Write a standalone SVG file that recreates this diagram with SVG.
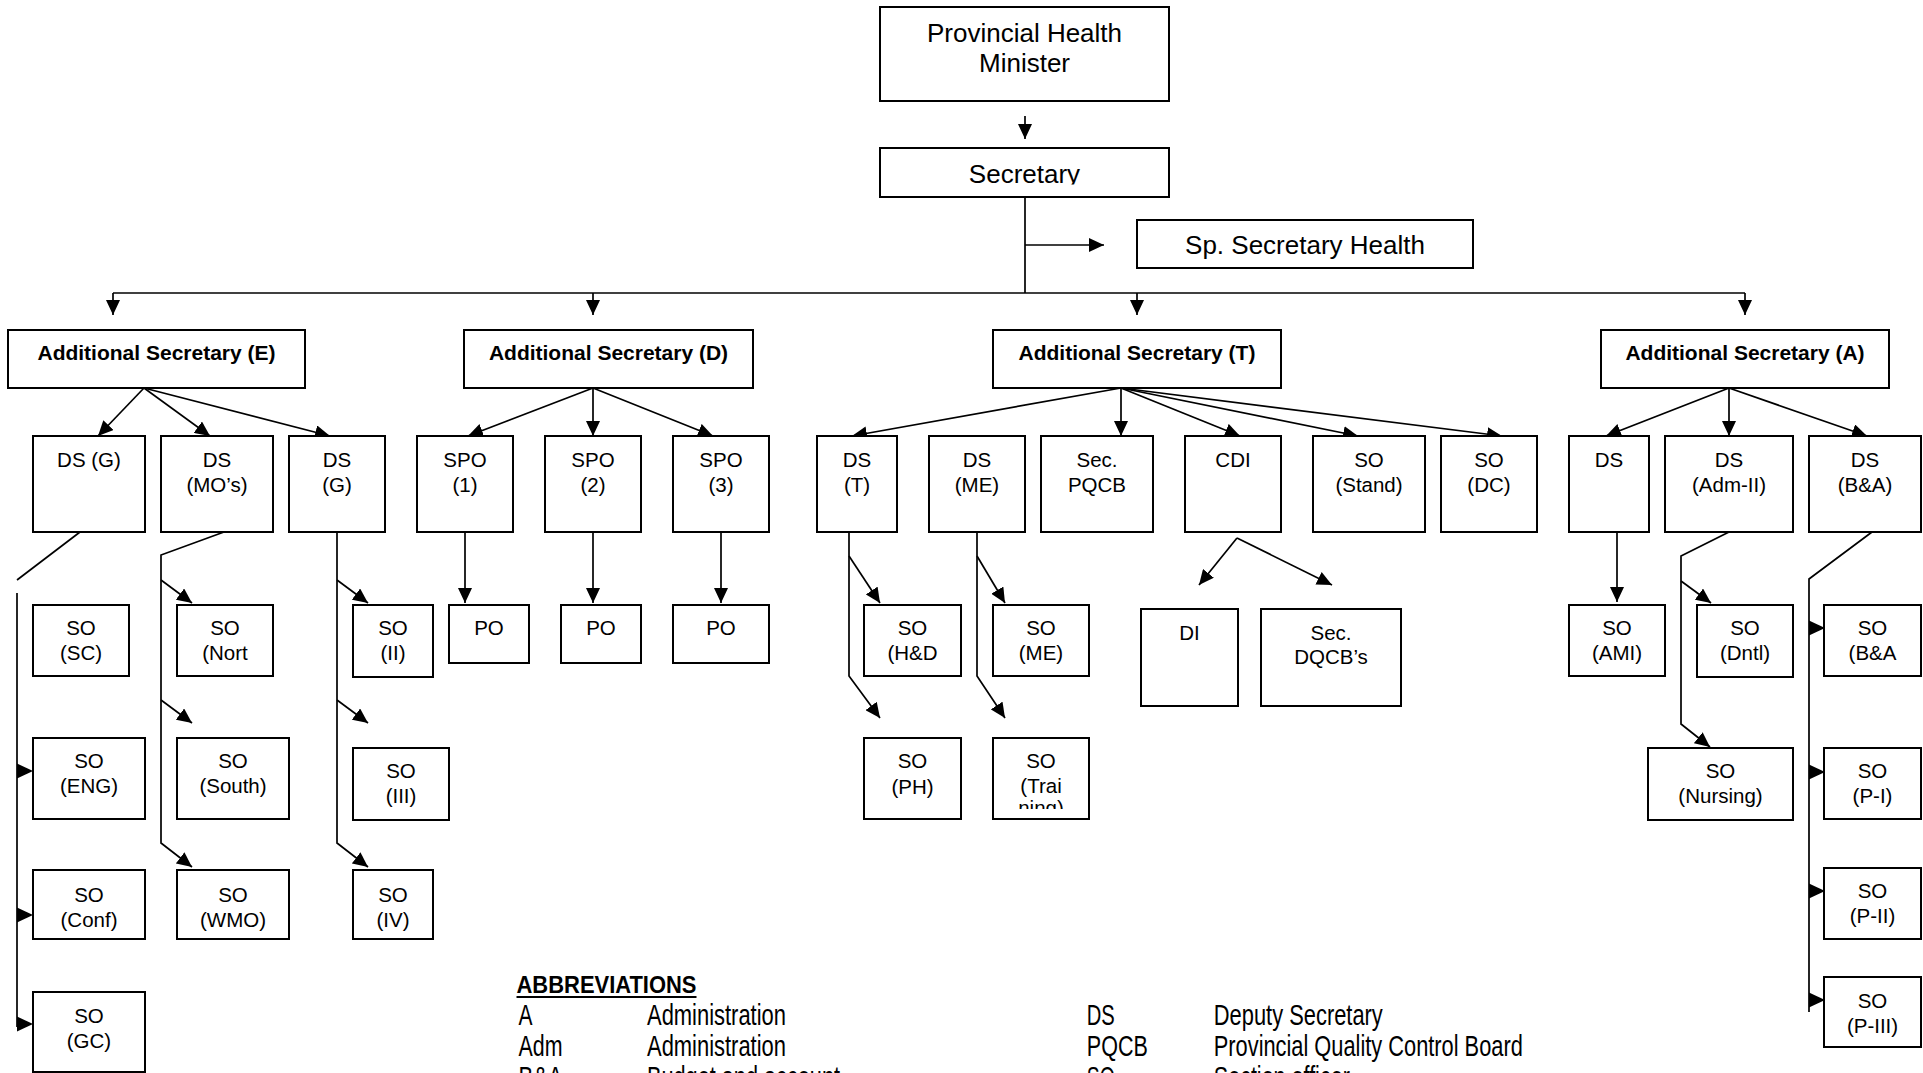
<svg xmlns="http://www.w3.org/2000/svg" xmlns:xlink="http://www.w3.org/1999/xlink" width="1923" height="1073" viewBox="0 0 1923 1073">
  <style>
    .box { fill: #ffffff; stroke: #000000; stroke-width: 2; }
    .t { font-family: "Liberation Sans", Arial, sans-serif; font-size: 20.5px; fill: #000000; text-anchor: middle; }
    .big { font-family: "Liberation Sans", Arial, sans-serif; font-size: 26px; fill: #000000; text-anchor: middle; }
    .bold { font-family: "Liberation Sans", Arial, sans-serif; font-size: 21px; font-weight: bold; fill: #000000; text-anchor: middle; }
    .ln { fill: none; stroke: #000000; stroke-width: 1.7; }
    .arw { marker-end: url(#arr); }
    .abbr { font-family: "Liberation Sans Narrow", "Liberation Sans", Arial, sans-serif; font-size: 29px; fill: #000000; }
    .abbrh { font-family: "Liberation Sans Narrow", "Liberation Sans", Arial, sans-serif; font-size: 23px; font-weight: bold; fill: #000000; }
  </style>
  <defs>
    <marker id="arr" viewBox="0 0 15 14" markerWidth="15" markerHeight="14" refX="15" refY="7" markerUnits="userSpaceOnUse" orient="auto">
      <path d="M0,0 L15,7 L0,14 Z" fill="#000000"/>
    </marker>
    <path id="tri" d="M0,-7.5 L16,0 L0,7.5 Z" fill="#000000"/>
    <clipPath id="clipSec"><rect x="880" y="148" width="289" height="36.5"/></clipPath>
    <clipPath id="clipTrai"><rect x="993" y="738" width="96" height="71"/></clipPath>
  </defs>

  <rect width="1923" height="1073" fill="#ffffff"/>

  <!-- connectors -->
  <g id="connectors">
    <path class="ln arw" d="M1025,116 V139"/>
    <path class="ln" d="M1025,197 V293"/>
    <path class="ln arw" d="M1025,245 H1104" stroke-width="2.6"/>
    <path class="ln" d="M113,293 H1745"/>
    <path class="ln arw" d="M113,293 V315"/>
    <path class="ln arw" d="M593,293 V315"/>
    <path class="ln arw" d="M1137,293 V315"/>
    <path class="ln arw" d="M1745,293 V315"/>

    <!-- Additional Secretary (E) -->
    <path class="ln arw" d="M144,388 L98,436"/>
    <path class="ln arw" d="M144,388 L210,436"/>
    <path class="ln arw" d="M144,388 L330,436"/>
    <!-- Additional Secretary (D) -->
    <path class="ln arw" d="M593,388 L468,436"/>
    <path class="ln arw" d="M593,388 V436"/>
    <path class="ln arw" d="M593,388 L713,436"/>
    <!-- Additional Secretary (T) -->
    <path class="ln arw" d="M1121,388 L852,436"/>
    <path class="ln arw" d="M1121,388 V436"/>
    <path class="ln arw" d="M1121,388 L1240,436"/>
    <path class="ln arw" d="M1121,388 L1358,436"/>
    <path class="ln arw" d="M1121,388 L1502,436"/>
    <!-- Additional Secretary (A) -->
    <path class="ln arw" d="M1729,388 L1606,436"/>
    <path class="ln arw" d="M1729,388 V436"/>
    <path class="ln arw" d="M1729,388 L1867,436"/>

    <!-- DS (G) column -->
    <path class="ln" d="M80,532 L17,580"/>
    <path class="ln" d="M17,593 V1027" stroke-width="2"/>
    <use xlink:href="#tri" x="17" y="771"/>
    <use xlink:href="#tri" x="17" y="915"/>
    <use xlink:href="#tri" x="17" y="1024"/>

    <!-- DS (MO's) column -->
    <path class="ln arw" d="M224,532 L161,555 V843 L192,867"/>
    <path class="ln arw" d="M161,580 L192,603"/>
    <path class="ln arw" d="M161,700 L192,723"/>

    <!-- DS (G) second column -->
    <path class="ln arw" d="M337,532 V843 L368,867"/>
    <path class="ln arw" d="M337,580 L368,603"/>
    <path class="ln arw" d="M337,700 L368,723"/>

    <!-- SPO to PO -->
    <path class="ln arw" d="M465,532 V603"/>
    <path class="ln arw" d="M593,532 V603"/>
    <path class="ln arw" d="M721,532 V603"/>

    <!-- DS (T) and DS (ME) columns -->
    <path class="ln arw" d="M849,532 V676 L880,718"/>
    <path class="ln arw" d="M849,556 L880,603"/>
    <path class="ln arw" d="M977,532 V676 L1005,718"/>
    <path class="ln arw" d="M977,556 L1005,603"/>

    <!-- CDI -->
    <path class="ln arw" d="M1237,538 L1199,585"/>
    <path class="ln arw" d="M1237,538 L1332,585"/>

    <!-- DS (A side) -->
    <path class="ln arw" d="M1617,532 V602"/>
    <path class="ln arw" d="M1729,532 L1681,556 V724 L1710,747"/>
    <path class="ln arw" d="M1681,581 L1711,603"/>

    <!-- DS (B&A) column -->
    <path class="ln" d="M1872,532 L1809,579 V1012" stroke-width="2"/>
    <use xlink:href="#tri" x="1809" y="628"/>
    <use xlink:href="#tri" x="1809" y="772"/>
    <use xlink:href="#tri" x="1809" y="891"/>
    <use xlink:href="#tri" x="1809" y="1000"/>
  </g>

  <!-- top of hierarchy -->
  <g id="phm"><rect class="box" x="880" y="7" width="289" height="94"/>
    <text class="big" x="1024.5" y="42">Provincial Health</text>
    <text class="big" x="1024.5" y="72">Minister</text></g>
  <g id="secretary"><rect class="box" x="880" y="148" width="289" height="49"/>
    <text class="big" x="1024.5" y="183" clip-path="url(#clipSec)">Secretary</text></g>
  <g id="sp-secretary"><rect class="box" x="1137" y="220" width="336" height="48"/>
    <text class="big" x="1305" y="254">Sp. Secretary Health</text></g>

  <!-- Additional Secretaries -->
  <g id="as-e"><rect class="box" x="8" y="330" width="297" height="58"/>
    <text class="bold" x="156.5" y="360">Additional Secretary (E)</text></g>
  <g id="as-d"><rect class="box" x="464" y="330" width="289" height="58"/>
    <text class="bold" x="608.5" y="360">Additional Secretary (D)</text></g>
  <g id="as-t"><rect class="box" x="993" y="330" width="288" height="58"/>
    <text class="bold" x="1137" y="360">Additional Secretary (T)</text></g>
  <g id="as-a"><rect class="box" x="1601" y="330" width="288" height="58"/>
    <text class="bold" x="1745" y="360">Additional Secretary (A)</text></g>

  <!-- second level -->
  <g id="ds-g1"><rect class="box" x="33" y="436" width="112" height="96"/>
    <text class="t" x="89" y="467">DS (G)</text></g>
  <g id="ds-mos"><rect class="box" x="161" y="436" width="112" height="96"/>
    <text class="t" x="217" y="467">DS</text><text class="t" x="217" y="492">(MO’s)</text></g>
  <g id="ds-g2"><rect class="box" x="289" y="436" width="96" height="96"/>
    <text class="t" x="337" y="467">DS</text><text class="t" x="337" y="492">(G)</text></g>
  <g id="spo1"><rect class="box" x="417" y="436" width="96" height="96"/>
    <text class="t" x="465" y="467">SPO</text><text class="t" x="465" y="492">(1)</text></g>
  <g id="spo2"><rect class="box" x="545" y="436" width="96" height="96"/>
    <text class="t" x="593" y="467">SPO</text><text class="t" x="593" y="492">(2)</text></g>
  <g id="spo3"><rect class="box" x="673" y="436" width="96" height="96"/>
    <text class="t" x="721" y="467">SPO</text><text class="t" x="721" y="492">(3)</text></g>
  <g id="ds-t"><rect class="box" x="817" y="436" width="80" height="96"/>
    <text class="t" x="857" y="467">DS</text><text class="t" x="857" y="492">(T)</text></g>
  <g id="ds-me"><rect class="box" x="929" y="436" width="96" height="96"/>
    <text class="t" x="977" y="467">DS</text><text class="t" x="977" y="492">(ME)</text></g>
  <g id="sec-pqcb"><rect class="box" x="1041" y="436" width="112" height="96"/>
    <text class="t" x="1097" y="467">Sec.</text><text class="t" x="1097" y="492">PQCB</text></g>
  <g id="cdi"><rect class="box" x="1185" y="436" width="96" height="96"/>
    <text class="t" x="1233" y="467">CDI</text></g>
  <g id="so-stand"><rect class="box" x="1313" y="436" width="112" height="96"/>
    <text class="t" x="1369" y="467">SO</text><text class="t" x="1369" y="492">(Stand)</text></g>
  <g id="so-dc"><rect class="box" x="1441" y="436" width="96" height="96"/>
    <text class="t" x="1489" y="467">SO</text><text class="t" x="1489" y="492">(DC)</text></g>
  <g id="ds-a"><rect class="box" x="1569" y="436" width="80" height="96"/>
    <text class="t" x="1609" y="467">DS</text></g>
  <g id="ds-adm"><rect class="box" x="1665" y="436" width="128" height="96"/>
    <text class="t" x="1729" y="467">DS</text><text class="t" x="1729" y="492">(Adm-II)</text></g>
  <g id="ds-ba"><rect class="box" x="1809" y="436" width="112" height="96"/>
    <text class="t" x="1865" y="467">DS</text><text class="t" x="1865" y="492">(B&amp;A)</text></g>

  <!-- third level, first row -->
  <g id="so-sc"><rect class="box" x="33" y="605" width="96" height="71"/>
    <text class="t" x="81" y="635">SO</text><text class="t" x="81" y="660">(SC)</text></g>
  <g id="so-nort"><rect class="box" x="177" y="605" width="96" height="71"/>
    <text class="t" x="225" y="635">SO</text><text class="t" x="225" y="660">(Nort</text></g>
  <g id="so-ii"><rect class="box" x="353" y="605" width="80" height="72"/>
    <text class="t" x="393" y="635">SO</text><text class="t" x="393" y="660">(II)</text></g>
  <g id="po1"><rect class="box" x="449" y="605" width="80" height="58"/>
    <text class="t" x="489" y="635">PO</text></g>
  <g id="po2"><rect class="box" x="561" y="605" width="80" height="58"/>
    <text class="t" x="601" y="635">PO</text></g>
  <g id="po3"><rect class="box" x="673" y="605" width="96" height="58"/>
    <text class="t" x="721" y="635">PO</text></g>
  <g id="so-hd"><rect class="box" x="864" y="605" width="97" height="71"/>
    <text class="t" x="912.5" y="635">SO</text><text class="t" x="912.5" y="660">(H&amp;D</text></g>
  <g id="so-me"><rect class="box" x="993" y="605" width="96" height="71"/>
    <text class="t" x="1041" y="635">SO</text><text class="t" x="1041" y="660">(ME)</text></g>
  <g id="di"><rect class="box" x="1141" y="609" width="97" height="97"/>
    <text class="t" x="1189.5" y="640">DI</text></g>
  <g id="sec-dqcb"><rect class="box" x="1261" y="609" width="140" height="97"/>
    <text class="t" x="1331" y="640">Sec.</text><text class="t" x="1331" y="664">DQCB’s</text></g>
  <g id="so-ami"><rect class="box" x="1569" y="605" width="96" height="71"/>
    <text class="t" x="1617" y="635">SO</text><text class="t" x="1617" y="660">(AMI)</text></g>
  <g id="so-dntl"><rect class="box" x="1697" y="605" width="96" height="72"/>
    <text class="t" x="1745" y="635">SO</text><text class="t" x="1745" y="660">(Dntl)</text></g>
  <g id="so-ba"><rect class="box" x="1824" y="605" width="97" height="71"/>
    <text class="t" x="1872.5" y="635">SO</text><text class="t" x="1872.5" y="660">(B&amp;A</text></g>

  <!-- third level, second row -->
  <g id="so-eng"><rect class="box" x="33" y="738" width="112" height="81"/>
    <text class="t" x="89" y="768">SO</text><text class="t" x="89" y="793">(ENG)</text></g>
  <g id="so-south"><rect class="box" x="177" y="738" width="112" height="81"/>
    <text class="t" x="233" y="768">SO</text><text class="t" x="233" y="793">(South)</text></g>
  <g id="so-iii"><rect class="box" x="353" y="748" width="96" height="72"/>
    <text class="t" x="401" y="778">SO</text><text class="t" x="401" y="803">(III)</text></g>
  <g id="so-ph"><rect class="box" x="864" y="738" width="97" height="81"/>
    <text class="t" x="912.5" y="768">SO</text><text class="t" x="912.5" y="794">(PH)</text></g>
  <g id="so-training"><rect class="box" x="993" y="738" width="96" height="81"/>
    <text class="t" x="1041" y="768">SO</text><text class="t" x="1041" y="793">(Trai</text>
    <text class="t" x="1041" y="815" clip-path="url(#clipTrai)">ning)</text></g>
  <g id="so-nursing"><rect class="box" x="1648" y="748" width="145" height="72"/>
    <text class="t" x="1720.5" y="778">SO</text><text class="t" x="1720.5" y="803">(Nursing)</text></g>
  <g id="so-p1"><rect class="box" x="1824" y="748" width="97" height="71"/>
    <text class="t" x="1872.5" y="778">SO</text><text class="t" x="1872.5" y="803">(P-I)</text></g>

  <!-- third level, lower rows -->
  <g id="so-conf"><rect class="box" x="33" y="870" width="112" height="69"/>
    <text class="t" x="89" y="902">SO</text><text class="t" x="89" y="927">(Conf)</text></g>
  <g id="so-wmo"><rect class="box" x="177" y="870" width="112" height="69"/>
    <text class="t" x="233" y="902">SO</text><text class="t" x="233" y="927">(WMO)</text></g>
  <g id="so-iv"><rect class="box" x="353" y="870" width="80" height="69"/>
    <text class="t" x="393" y="902">SO</text><text class="t" x="393" y="927">(IV)</text></g>
  <g id="so-p2"><rect class="box" x="1824" y="868" width="97" height="71"/>
    <text class="t" x="1872.5" y="898">SO</text><text class="t" x="1872.5" y="923">(P-II)</text></g>
  <g id="so-gc"><rect class="box" x="33" y="992" width="112" height="80"/>
    <text class="t" x="89" y="1023">SO</text><text class="t" x="89" y="1048">(GC)</text></g>
  <g id="so-p3"><rect class="box" x="1824" y="977" width="97" height="70"/>
    <text class="t" x="1872.5" y="1008">SO</text><text class="t" x="1872.5" y="1033">(P-III)</text></g>

  <!-- abbreviations legend -->
  <g id="abbreviations">
    <text class="abbrh" x="516.5" y="993" textLength="180" lengthAdjust="spacingAndGlyphs">ABBREVIATIONS</text>
    <line x1="516.5" y1="997" x2="696.5" y2="997" stroke="#000000" stroke-width="2"/>
    <text class="abbr" x="518.6" y="1025" textLength="14" lengthAdjust="spacingAndGlyphs">A</text>
    <text class="abbr" x="647" y="1025" textLength="139" lengthAdjust="spacingAndGlyphs">Administration</text>
    <text class="abbr" x="1086.8" y="1025" textLength="28" lengthAdjust="spacingAndGlyphs">DS</text>
    <text class="abbr" x="1213.8" y="1025" textLength="169" lengthAdjust="spacingAndGlyphs">Deputy Secretary</text>
    <text class="abbr" x="518.6" y="1055.5" textLength="44" lengthAdjust="spacingAndGlyphs">Adm</text>
    <text class="abbr" x="647" y="1055.5" textLength="139" lengthAdjust="spacingAndGlyphs">Administration</text>
    <text class="abbr" x="1086.8" y="1055.5" textLength="61" lengthAdjust="spacingAndGlyphs">PQCB</text>
    <text class="abbr" x="1213.8" y="1055.5" textLength="309" lengthAdjust="spacingAndGlyphs">Provincial Quality Control Board</text>
    <text class="abbr" x="518.6" y="1087" textLength="44" lengthAdjust="spacingAndGlyphs">B&amp;A</text>
    <text class="abbr" x="647" y="1087" textLength="193" lengthAdjust="spacingAndGlyphs">Budget and account</text>
    <text class="abbr" x="1086.8" y="1087" textLength="28" lengthAdjust="spacingAndGlyphs">SO</text>
    <text class="abbr" x="1213.8" y="1087" textLength="136" lengthAdjust="spacingAndGlyphs">Section officer</text>
  </g>
</svg>
